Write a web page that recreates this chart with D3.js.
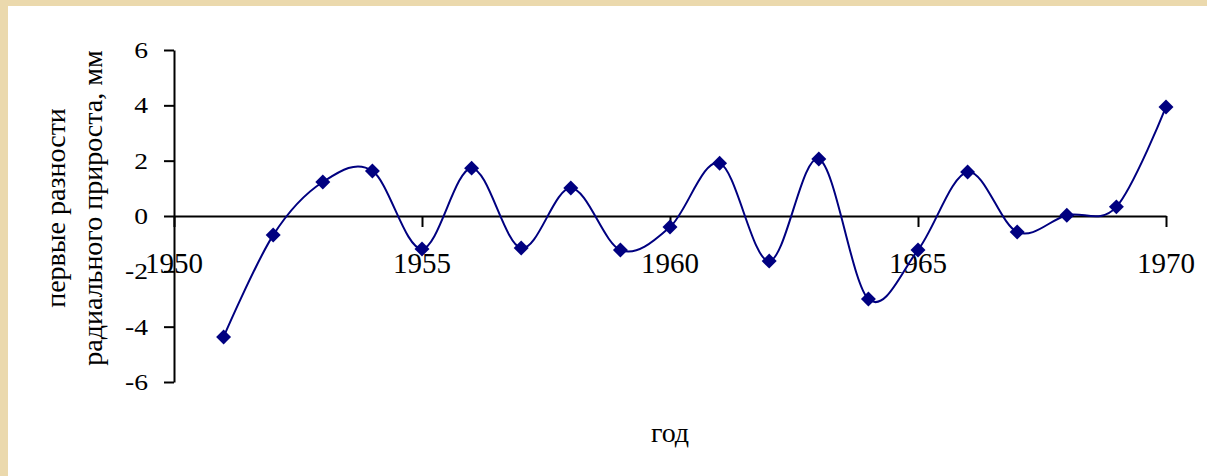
<!DOCTYPE html>
<html>
<head>
	<meta charset="utf-8">
	<script src="https://cdnjs.cloudflare.com/ajax/libs/d3/7.8.5/d3.min.js"></script>
	<style>
		body { margin: 0; }
		text { font-family: 'Liberation Serif', 'Times New Roman', serif; fill: #000; }
		.axis path, .axis line { stroke: #000; stroke-width: 2px; }
	</style>
</head>
<body>
<div id="chart"></div>
<script>

//Data: years and first differences of radial growth (mm)
var years = [1951, 1952, 1953, 1954, 1955, 1956, 1957, 1958, 1959, 1960,
             1961, 1962, 1963, 1964, 1965, 1966, 1967, 1968, 1969, 1970];
var values = [-4.37, -0.69, 1.23, 1.63, -1.19, 1.73, -1.16, 1.01, -1.23, -0.4,
              1.91, -1.63, 2.06, -3.0, -1.23, 1.59, -0.58, 0.03, 0.33, 3.94];
var xTicks = [1950, 1955, 1960, 1965, 1970];
var yTicks = [-6, -4, -2, 0, 2, 4, 6];

var W = 1207, H = 476;

var svg = d3.select("#chart").append("svg")
	.attr("width", W)
	.attr("height", H);

//Parchment border and white slide panel
svg.append("rect").attr("width", W).attr("height", H).attr("fill", "#ebd9ad");
svg.append("rect").attr("x", 8).attr("y", 6).attr("width", W - 8).attr("height", H - 6).attr("fill", "#fff");

//Scales
var x = d3.scaleLinear().domain([1950, 1970]).range([174, 1166]);
var y = d3.scaleLinear().domain([-6, 6]).range([382, 50]);

//Y axis
svg.append("g")
	.attr("class", "axis")
	.attr("transform", "translate(" + x(1950) + ",0)")
	.call(d3.axisLeft(y).tickValues(yTicks).tickSize(10).tickSizeOuter(0).tickFormat(""));

//X axis through zero
svg.append("g")
	.attr("class", "axis")
	.attr("transform", "translate(0," + y(0) + ")")
	.call(d3.axisBottom(x).tickValues(xTicks).tickSize(11).tickSizeOuter(0).tickFormat(""));

//Y tick labels (slightly stretched like the slide)
svg.selectAll(".ylab")
	.data(yTicks)
  .enter().append("text")
	.attr("class", "ylab")
	.attr("transform", function(d) { return "translate(148," + (y(d) + 8) + ") scale(1.15,1)"; })
	.style("text-anchor", "end")
	.style("font-size", "24px")
	.text(function(d) { return d; });

//X tick labels
svg.selectAll(".xlab")
	.data(xTicks)
  .enter().append("text")
	.attr("class", "xlab")
	.attr("x", function(d) { return x(d); })
	.attr("y", 273)
	.style("text-anchor", "middle")
	.style("font-size", "29px")
	.text(function(d) { return d; });

//Smoothed line
var line = d3.line()
	.x(function(d, i) { return x(years[i]); })
	.y(function(d) { return y(d); })
	.curve(d3.curveCardinal.tension(0));

svg.append("path")
	.datum(values)
	.attr("d", line)
	.attr("fill", "none")
	.attr("stroke", "#000080")
	.attr("stroke-width", 2);

//Diamond markers
svg.selectAll(".dot")
	.data(values)
  .enter().append("path")
	.attr("class", "dot")
	.attr("d", d3.symbol().type(d3.symbolSquare).size(112))
	.attr("transform", function(d, i) { return "translate(" + x(years[i]) + "," + y(d) + ") rotate(45)"; })
	.attr("fill", "#000080");

//Axis titles
var yTitle = svg.append("text")
	.attr("transform", "translate(0,208) rotate(-90)")
	.style("text-anchor", "middle")
	.style("font-size", "28px");
yTitle.append("tspan").attr("x", 0).attr("y", 65).text("первые разности");
yTitle.append("tspan").attr("x", 0).attr("y", 102).text("радиального прироста, мм");

svg.append("text")
	.attr("x", 670)
	.attr("y", 442)
	.style("text-anchor", "middle")
	.style("font-size", "28px")
	.text("год");

</script>
</body>
</html>
